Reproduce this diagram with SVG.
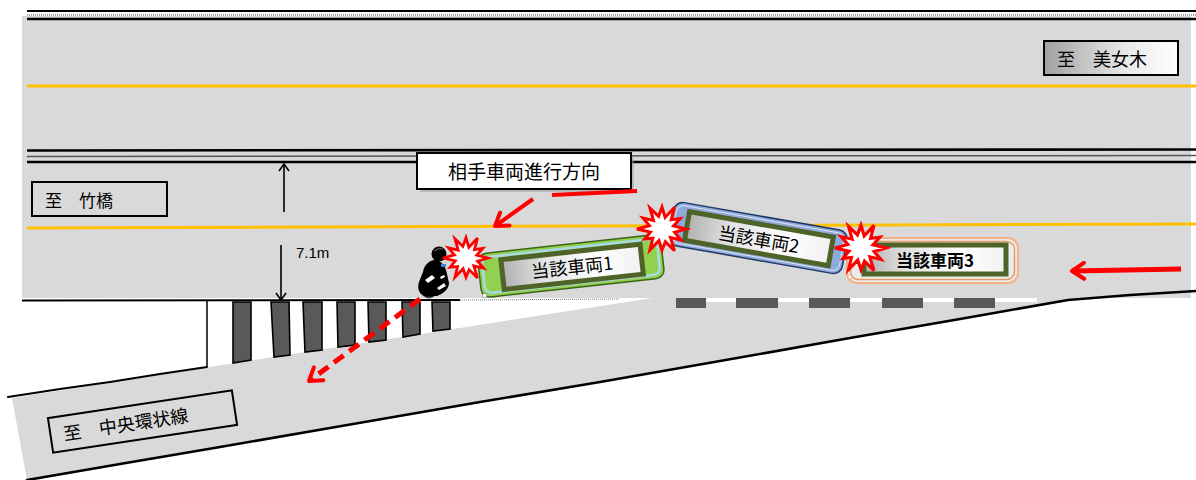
<svg xmlns="http://www.w3.org/2000/svg" width="1196" height="480" viewBox="0 0 1196 480">
  <style>
    .jp { font-family: "Noto Sans CJK JP", "Noto Sans", sans-serif; fill: #000; }
    .edge { fill: none; stroke: #000; stroke-linecap: round; stroke-linejoin: round; }
    .sign { stroke: #000; stroke-width: 2; }
    .plate { fill: url(#plateFill); stroke: #4f6228; stroke-width: 5; }
    .stripe { fill: #595959; stroke: #000; stroke-width: 1.6; }
    .dash { fill: #595959; }
    .burst { fill: #fff; stroke: #ff0000; stroke-width: 3; stroke-linejoin: miter; }
    .redline { fill: none; stroke: #ff0000; stroke-linecap: butt; }
  </style>
  <defs>
    <linearGradient id="plateFill" x1="0" y1="0" x2="1" y2="0">
      <stop offset="0" stop-color="#b0b0b0"/>
      <stop offset="0.3" stop-color="#e2e2e2"/>
      <stop offset="0.7" stop-color="#ffffff"/>
      <stop offset="1" stop-color="#f0f0f0"/>
    </linearGradient>
    <linearGradient id="signFill" x1="0" y1="0" x2="1" y2="0">
      <stop offset="0" stop-color="#a0a0a0"/>
      <stop offset="0.6" stop-color="#e8e8e8"/>
      <stop offset="1" stop-color="#ffffff"/>
    </linearGradient>
    <polygon id="burst" points="24,0 12.6,3.4 19.1,11 8.5,8.5 12.5,21.7 3.4,12.6 0,21 -3.1,11.6 -12,20.8 -9.2,9.2 -17.3,10 -11.6,3.1 -25,0 -12.6,-3.4 -19.1,-11 -8.5,-8.5 -12,-20.8 -3.4,-12.6 0,-22 3.1,-11.6 12.5,-21.7 9.2,-9.2 18.2,-10.5 11.6,-3.1"/>
    <marker id="redHead" viewBox="0 0 20 20" refX="17" refY="10" markerWidth="20" markerHeight="20" markerUnits="userSpaceOnUse" orient="auto">
      <path d="M5,2 L17,10 L5,18" fill="none" stroke="#ff0000" stroke-width="4" stroke-linecap="round" stroke-linejoin="round" stroke-dasharray="none"/>
    </marker>
    <marker id="blackHead" viewBox="0 0 12 12" refX="11" refY="6" markerWidth="12" markerHeight="12" markerUnits="userSpaceOnUse" orient="auto">
      <path d="M4,1 L11,6 L4,11" fill="none" stroke="#000" stroke-width="1.6"/>
    </marker>
  </defs>

  <!-- carriageways -->
  <g id="road">
    <!-- slip road towards the ring road -->
    <polygon points="12,398 650,298 1196,290 1196,292 1068,300 27,480" fill="#d9d9d9"/>
    <!-- main road -->
    <rect x="22" y="16" width="1169" height="282" fill="#d9d9d9"/>
    <!-- crossing area -->
    <polygon points="207,301 652,298 207,367" fill="#fff"/>
    <line x1="207" y1="301" x2="207" y2="367" stroke="#000" stroke-width="1.5"/>
    <!-- kerb lines -->
    <path class="edge" stroke-width="2" d="M8,397 L60,389 L110,382 L160,374 L207,367"/>
    <path class="edge" stroke-width="2.6" d="M27,480 L120,464 L220,447 L330,428 L480,402 L600,382 L720,361 L850,338 L960,319 L1068,300 L1130,295 L1196,291"/>
    <line x1="22" y1="300.5" x2="460" y2="300" stroke="#000" stroke-width="2"/>
    <line x1="460" y1="300" x2="620" y2="299" stroke="#777" stroke-width="1" stroke-dasharray="1 1"/>
  </g>

  <!-- pedestrian crossing -->
  <g id="crosswalk">
    <polygon class="stripe" points="233,302 251,302 251,360 233,363"/>
    <polygon class="stripe" points="271,302 289,302 290,355 274,357"/>
    <polygon class="stripe" points="303,302 322,302 322,350 305,352"/>
    <polygon class="stripe" points="337,302 355,302 355,345 338,347"/>
    <polygon class="stripe" points="368,302 386,302 386,340 369,342"/>
    <polygon class="stripe" points="402,302 420,302 420,334 403,337"/>
    <polygon class="stripe" points="432,302 450,302 450,329 433,331"/>
  </g>

  <!-- lane markings -->
  <g id="markings">
    <line x1="27" y1="11" x2="1196" y2="11" stroke="#000" stroke-width="2"/>
    <line x1="27" y1="15" x2="1196" y2="15" stroke="#888" stroke-width="1.5" stroke-dasharray="1 1"/>
    <line x1="27" y1="19" x2="1196" y2="19" stroke="#000" stroke-width="2.5"/>
    <line x1="27" y1="86" x2="1196" y2="86" stroke="#ffc000" stroke-width="3"/>
    <line x1="27" y1="150.5" x2="1196" y2="149.5" stroke="#000" stroke-width="2.6"/>
    <line x1="27" y1="156.5" x2="1196" y2="155.5" stroke="#555" stroke-width="1.5"/>
    <line x1="27" y1="162" x2="1196" y2="162" stroke="#000" stroke-width="2.6"/>
    <line x1="27" y1="228" x2="1196" y2="224" stroke="#ffc000" stroke-width="3"/>
    <rect x="676" y="298" width="361" height="4" fill="#fff"/>
    <rect class="dash" x="676" y="298" width="30" height="10"/>
    <rect class="dash" x="736" y="298" width="42" height="10"/>
    <rect class="dash" x="809" y="298" width="41" height="10"/>
    <rect class="dash" x="882" y="298" width="41" height="10"/>
    <rect class="dash" x="954" y="298" width="41" height="10"/>
  </g>

  <!-- destination signs -->
  <g id="sign-bijogi">
    <rect class="sign" x="1044" y="41" width="134" height="34" fill="url(#signFill)"/>
    <text class="jp" x="1057" y="66" font-size="18">至　美女木</text>
  </g>
  <g id="sign-takehashi">
    <rect class="sign" x="32" y="182" width="135" height="34" fill="none"/>
    <text class="jp" x="45" y="207" font-size="17">至　竹橋</text>
  </g>
  <g id="sign-chuo" transform="translate(142.5,421.5) rotate(-8.6)">
    <rect class="sign" x="-93" y="-17.5" width="186" height="35" fill="none"/>
    <text class="jp" x="-80" y="7" font-size="18">至　中央環状線</text>
  </g>

  <!-- direction of the other vehicle -->
  <g id="label-direction">
    <rect x="420" y="156" width="214" height="36" fill="#9a9a9a" opacity="0.5"/>
    <rect class="sign" x="417" y="153" width="214" height="36" fill="#fff"/>
    <text class="jp" x="524" y="179" font-size="19" text-anchor="middle">相手車両進行方向</text>
  </g>

  <!-- width dimension -->
  <g id="dimension">
    <line x1="284" y1="212" x2="284" y2="164" stroke="#000" stroke-width="1.6" marker-end="url(#blackHead)"/>
    <line x1="281" y1="245" x2="281" y2="300" stroke="#000" stroke-width="1.6" marker-end="url(#blackHead)"/>
    <text x="296" y="258" font-family="Liberation Sans, Arial, sans-serif" font-size="15" fill="#000">7.1m</text>
  </g>

  <!-- vehicles involved -->
  <g id="vehicle-1" transform="translate(571,266) rotate(-6.3)">
    <rect x="-92" y="-22" width="184" height="44" rx="9" fill="#92d050" stroke="#3a6418" stroke-width="1.5"/>
    <rect x="-88" y="-18" width="176" height="36" rx="7" fill="none" stroke="#a9d8e6" stroke-width="2.5"/>
    <rect class="plate" x="-69" y="-14" width="140" height="30"/>
    <text class="jp" x="1" y="8" font-size="18" text-anchor="middle">当該車両1</text>
    <circle cx="-89" cy="20" r="2.2" fill="#fff" stroke="#777" stroke-width="0.6"/>
  </g>
  <g id="vehicle-2" transform="translate(758,238) rotate(10)">
    <rect x="-88" y="-22" width="176" height="44" rx="9" fill="#8eaadb" stroke="#203864" stroke-width="1.5"/>
    <rect x="-85" y="-19" width="170" height="38" rx="7" fill="none" stroke="#dae3f3" stroke-width="1"/>
    <rect class="plate" x="-72" y="-14" width="146" height="29"/>
    <text class="jp" x="1" y="8" font-size="18" text-anchor="middle">当該車両2</text>
  </g>
  <g id="vehicle-3">
    <rect x="847" y="238" width="171" height="45" rx="10" fill="#ececec" stroke="#f4b183" stroke-width="2"/>
    <rect x="850.5" y="241.5" width="164" height="38" rx="8" fill="none" stroke="#e59c62" stroke-width="1.5"/>
    <rect class="plate" x="864" y="245" width="142" height="29"/>
    <text class="jp" x="935" y="267" font-size="17" font-weight="bold" text-anchor="middle">当該車両3</text>
    <circle cx="850" cy="277" r="2" fill="#fff" stroke="#e59c62" stroke-width="0.6"/>
  </g>

  <!-- motorcycle and rider -->
  <g id="motorcycle">
    <!-- wheel -->
    <ellipse cx="429" cy="292" rx="7" ry="6" fill="#1a1a1a" stroke="#555" stroke-width="1"/>
    <!-- rider and machine -->
    <path d="M434,260 C428,261 424,266 423,272 L419,282 C417,288 419,294 424,296 L437,296 C443,294 449,289 449,283 L447,274 C446,268 443,263 439,261 Z" fill="#000"/>
    <!-- helmet -->
    <circle cx="439" cy="254" r="7.5" fill="#000"/>
    <path d="M434,251 Q438,247.5 443,249" fill="none" stroke="#777" stroke-width="1"/>
    <!-- visor -->
    <rect x="441" y="264" width="5" height="3" fill="#3d86d6"/>
    <!-- fairing reflections -->
    <path d="M425,280 L432,275 L435,278 L428,283 Z" fill="#fff"/>
    <path d="M437,288 L444,283 L446,286 L439,290 Z" fill="#fff"/>
    <path d="M440,277 L444,275 L445,277 L441,279 Z" fill="#fff"/>
  </g>

  <!-- points of impact -->
  <g id="impacts">
    <use href="#burst" class="burst" transform="translate(466,258) scale(0.92)"/>
    <use href="#burst" class="burst" transform="translate(662,229) scale(1)"/>
    <use href="#burst" class="burst" transform="translate(861,248) scale(1.04)"/>
  </g>

  <!-- movement arrows -->
  <g id="connectors">
    <line class="redline" x1="552" y1="195" x2="637" y2="191" stroke-width="4"/>
    <line class="redline" x1="533" y1="199" x2="495" y2="226" stroke-width="4" marker-end="url(#redHead)"/>
    <line class="redline" x1="1181" y1="269" x2="1072" y2="271" stroke-width="5" marker-end="url(#redHead)"/>
    <line class="redline" x1="420" y1="299" x2="309" y2="381" stroke-width="5" stroke-dasharray="12 7" marker-end="url(#redHead)"/>
  </g>
</svg>
